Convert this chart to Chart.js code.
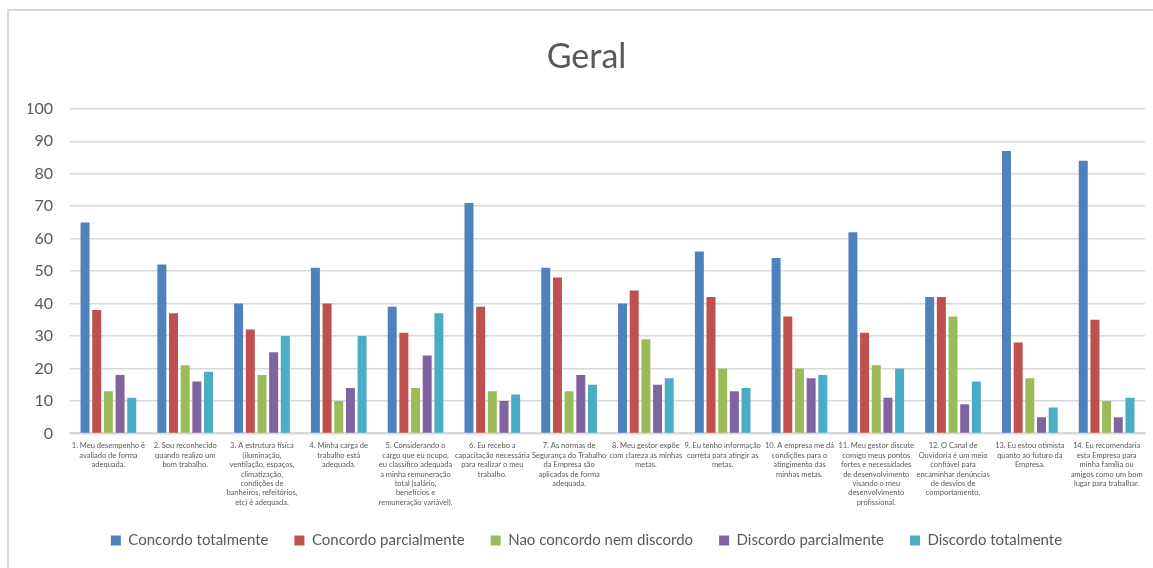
<!DOCTYPE html>
<html>
<head>
<meta charset="utf-8">
<script src="https://cdn.jsdelivr.net/npm/chart.js@4.4.1/dist/chart.umd.min.js"></script>
<style>
    html, body { margin: 0; padding: 0; background: #fff; }
    #frame {
        position: absolute; left: 7px; top: 9px;
        width: 1200px; height: 600px;
        border-top: 2px solid #d9d9d9; border-left: 2px solid #d9d9d9;
    }
    #wrap { position: absolute; left: 0; top: 0; width: 1153px; height: 568px; }
</style>
</head>
<body>
<div id="frame"></div>
<div id="wrap"><canvas id="geralChart"></canvas></div>
<script>
// Survey questions (x axis), one multi-line label per question
const questions = [
    ['1. Meu desempenho é', 'avaliado de forma', 'adequada.'],
    ['2. Sou reconhecido', 'quando realizo um', 'bom trabalho.'],
    ['3. A estrutura física', '(iluminação,', 'ventilação, espaços,', 'climatização,', 'condições de', 'banheiros, refeitórios,', 'etc) é adequada.'],
    ['4. Minha carga de', 'trabalho está', 'adequada.'],
    ['5. Considerando o', 'cargo que eu ocupo,', 'eu classifico adequada', 'a minha remuneração', 'total (salário,', 'benefícios e', 'remuneração variável).'],
    ['6. Eu recebo a', 'capacitação necessária', 'para realizar o meu', 'trabalho.'],
    ['7. As normas de', 'Segurança do Trabalho', 'da Empresa são', 'aplicadas de forma', 'adequada.'],
    ['8. Meu gestor expõe', 'com clareza as minhas', 'metas.'],
    ['9. Eu tenho informação', 'correta para atingir as', 'metas.'],
    ['10. A empresa me dá', 'condições para o', 'atingimento das', 'minhas metas.'],
    ['11. Meu gestor discute', 'comigo meus pontos', 'fortes e necessidades', 'de desenvolvimento', 'visando o meu', 'desenvolvimento', 'profissional.'],
    ['12. O Canal de', 'Ouvidoria é um meio', 'confiável para', 'encaminhar denúncias', 'de desvios de', 'comportamento.'],
    ['13. Eu estou otimista', 'quanto ao futuro da', 'Empresa.'],
    ['14. Eu recomendaria', 'esta Empresa para', 'minha família ou', 'amigos como um bom', 'lugar para trabalhar.']
];

const concordoTotalmente   = [65, 52, 40, 51, 39, 71, 51, 40, 56, 54, 62, 42, 87, 84];
const concordoParcialmente = [38, 37, 32, 40, 31, 39, 48, 44, 42, 36, 31, 42, 28, 35];
const naoConcordoNem       = [13, 21, 18, 10, 14, 13, 13, 29, 20, 20, 21, 36, 17, 10];
const discordoParcialmente = [18, 16, 25, 14, 24, 10, 18, 15, 13, 17, 11,  9,  5,  5];
const discordoTotalmente   = [11, 19, 30, 30, 37, 12, 15, 17, 14, 18, 20, 16,  8, 11];

const yTicks = [0, 10, 20, 30, 40, 50, 60, 70, 80, 90, 100];

const textColor = '#595959';
const gridColor = '#d9d9d9';
const fontFamily = 'Lato, "Open Sans", sans-serif';

function series(label, data, color) {
    return {
        label: label,
        data: data,
        backgroundColor: color,
        borderWidth: 0,
        categoryPercentage: 0.76,
        barPercentage: 0.77
    };
}

new Chart(document.getElementById('geralChart'), {
    type: 'bar',
    data: {
        labels: questions,
        datasets: [
            series('Concordo totalmente', concordoTotalmente, '#4f81bd'),
            series('Concordo parcialmente', concordoParcialmente, '#c0504d'),
            series('Nao concordo nem discordo', naoConcordoNem, '#9bbb59'),
            series('Discordo parcialmente', discordoParcialmente, '#8064a2'),
            series('Discordo totalmente', discordoTotalmente, '#4bacc6')
        ]
    },
    options: {
        responsive: true,
        maintainAspectRatio: false,
        animation: false,
        layout: {
            padding: { left: 28, right: 8, top: 10, bottom: 10 }
        },
        plugins: {
            title: {
                display: true,
                text: 'Geral',
                color: textColor,
                font: { family: fontFamily, size: 34, weight: 'normal' },
                padding: { top: 27, bottom: 31 }
            },
            legend: {
                position: 'bottom',
                labels: {
                    color: textColor,
                    font: { family: fontFamily, size: 15 },
                    boxWidth: 10,
                    boxHeight: 10,
                    padding: 26
                }
            },
            tooltip: { enabled: false }
        },
        scales: {
            x: {
                grid: { display: false },
                border: { color: gridColor, width: 2 },
                ticks: {
                    autoSkip: false,
                    maxRotation: 0,
                    minRotation: 0,
                    color: textColor,
                    padding: 0,
                    font: { family: fontFamily, size: 7.5, lineHeight: 1.25 }
                }
            },
            y: {
                min: 0,
                max: 100,
                afterBuildTicks: function(axis) {
                    axis.ticks = yTicks.map(v => ({ value: v }));
                },
                afterFit: function(axis) {
                    axis.width = 42;
                },
                grid: { color: gridColor, lineWidth: 1.5, drawTicks: false },
                border: { display: false },
                ticks: {
                    color: textColor,
                    padding: 17,
                    font: { family: fontFamily, size: 16 }
                }
            }
        }
    }
});
</script>
</body>
</html>
